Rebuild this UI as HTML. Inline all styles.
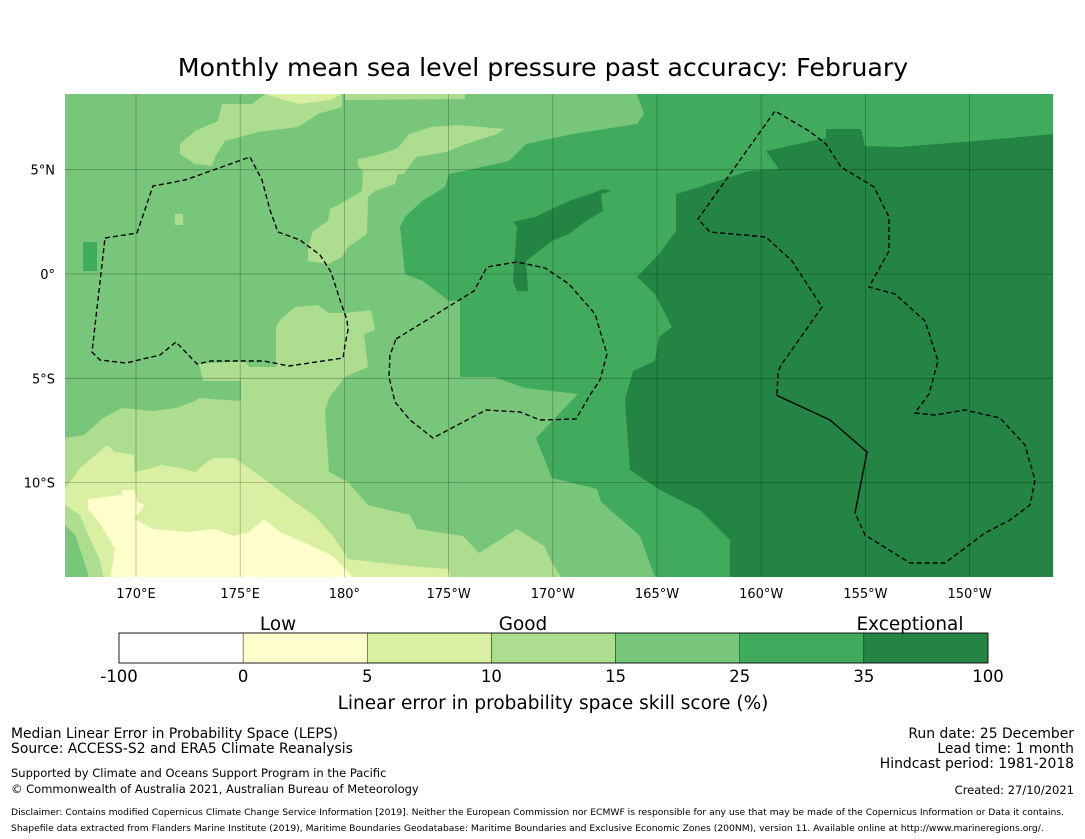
<!DOCTYPE html>
<html><head><meta charset="utf-8"><style>
body{margin:0;background:#fff;width:1085px;height:839px;overflow:hidden;font-family:"DejaVu Sans","Liberation Sans",sans-serif;}
svg{display:block}
</style></head><body>
<svg id="fig" width="1085" height="839" viewBox="0 0 1085 839" xmlns="http://www.w3.org/2000/svg">
<text x="543" y="76" text-anchor="middle" font-size="25.3" font-family="DejaVu Sans, sans-serif">Monthly mean sea level pressure past accuracy: February</text>
<defs><clipPath id="mapclip"><rect x="65" y="94" width="988" height="483"/></clipPath></defs>
<g id="map" clip-path="url(#mapclip)"></g>
<g id="grid"></g>
<g id="bounds"></g>
<g id="ticks" font-size="13"></g>
<g id="cbar"></g>
<g font-size="13.9">
<text x="11" y="738">Median Linear Error in Probability Space (LEPS)</text>
<text x="11" y="753">Source: ACCESS-S2 and ERA5 Climate Reanalysis</text>
</g>
<g font-size="11.5">
<text x="11" y="777">Supported by Climate and Oceans Support Program in the Pacific</text>
<text x="11" y="793">© Commonwealth of Australia 2021, Australian Bureau of Meteorology</text>
</g>
<g font-size="13.9" text-anchor="end">
<text x="1074" y="738">Run date: 25 December</text>
<text x="1074" y="753">Lead time: 1 month</text>
<text x="1074" y="768">Hindcast period: 1981-2018</text>
<text x="1074" y="794" font-size="11.5">Created: 27/10/2021</text>
</g>
<text x="11" y="815" font-size="9.2">Disclaimer: Contains modified Copernicus Climate Change Service Information [2019]. Neither the European Commission nor ECMWF is responsible for any use that may be made of the Copernicus Information or Data it contains.</text>
<text x="11" y="831" font-size="9.2">Shapefile data extracted from Flanders Marine Institute (2019), Maritime Boundaries Geodatabase: Maritime Boundaries and Exclusive Economic Zones (200NM), version 11. Available online at http://www.marineregions.org/.</text>
</svg>
<script>
const binEdges = ["-100","0","5","10","15","25","35","100"];
const binColors = ["#ffffff","#ffffcc","#d9f0a3","#addd8e","#78c679","#41ab5d","#238443"];
const categoryLabels = ["Low","Good","Exceptional"];
const lonTicks = ["170°E","175°E","180°","175°W","170°W","165°W","160°W","155°W","150°W"];
const lonValues = [170,175,180,185,190,195,200,205,210];
const latTicks = ["5°N","0°","5°S","10°S"];
const latValues = [5,0,-5,-10];

const NS="http://www.w3.org/2000/svg";
function mk(tag,attrs,parent){const e=document.createElementNS(NS,tag);for(const k in attrs)e.setAttribute(k,attrs[k]);parent.appendChild(e);return e;}
const xLon=l=>136+(l-170)*20.84;
const yLat=l=>274-l*20.86;

const map=document.getElementById('map');
const regions=[
 ["#78c679","65,94 1053,94 1053,577 65,577"],
 ["#addd8e","180,144 195,131 218,121 222,104 252,104 265,94 342,94 342,107 318,114 298,127 258,132 225,141 215,157 212,166 195,164 180,154"],
 ["#d9f0a3","265,94 342,94 330,100 300,104 288,101"],
 ["#addd8e","345,94 465,94 465,99 345,100"],
 ["#addd8e","358,166 358,159 378,155 398,148 409,134 431,127 459,125 504,129 497,134 466,144 446,152 416,157 404,174 398,174 395,184 375,191 368,197 367,234 348,247 342,257 328,264 308,261 308,247 313,231 328,221 330,209 345,201 362,191 363,171"],
 ["#addd8e","175,214 183,214 183,225 175,225"],
 ["#addd8e","280,320 295,307 318,305 329,313 345,313 371,310 375,330 364,334 368,367 345,377 329,398 325,411 329,472 348,482 368,505 410,515 417,529 463,536 479,553 517,529 544,546 552,563 563,580 65,580 65,438 84,435 92,428 103,418 122,408 153,411 176,408 195,401 199,398 241,401 241,381 203,381 199,364 245,361 249,367 276,367 276,327"],
 ["#d9f0a3","65,489 80,468 92,458 107,445 115,452 134,455 134,472 153,468 161,465 180,468 195,472 207,462 214,458 234,458 249,468 272,485 295,502 314,515 333,536 348,559 383,563 410,566 448,569 452,580 65,580"],
 ["#ffffcc","88,499 122,495 122,490 134,490 138,502 145,505 134,519 153,529 188,532 214,529 234,536 249,532 264,519 280,532 303,542 333,556 345,569 356,580 110,580 115,549 99,522 88,509"],
 ["#addd8e","65,505 80,515 88,535 100,560 104,580 65,580"],
 ["#78c679","65,525 75,535 82,555 90,580 65,580"],
 ["#41ab5d","83,242 97,242 97,271 83,271"],
 ["#41ab5d","637,94 1053,94 1053,577 655,577 640,536 601,502 597,489 552,478 536,438 578,394 525,388 494,377 460,377 460,300 449,301 423,281 405,274 400,227 405,217 422,201 445,187 449,174 509,161 526,144 573,134 637,124 644,114"],
 ["#238443","766,151 826,138 826,129 861,129 865,146 899,147 964,142 1053,134 1053,577 730,577 730,540 700,510 660,490 630,470 625,400 633,371 655,361 659,337 672,327 655,294 637,277 659,254 676,231 676,194 693,189 749,171 779,169"],
 ["#238443","603,189 612,191 601,194 603,211 586,221 569,234 552,241 526,261 528,291 517,291 513,281 517,227 513,222 535,217 552,209 569,201 590,194"]
];
regions.forEach(r=>{const p=mk('polygon',{points:r[1],fill:r[0]},map);

});

const grid=document.getElementById('grid');
lonValues.forEach(v=>{const l=mk('line',{x1:xLon(v),x2:xLon(v),y1:94,y2:577,stroke:'#000','stroke-opacity':0.28,'stroke-width':0.8},grid);

});
latValues.forEach(v=>{const l=mk('line',{x1:65,x2:1053,y1:yLat(v),y2:yLat(v),stroke:'#000','stroke-opacity':0.28,'stroke-width':0.8},grid);

});

const bounds=document.getElementById('bounds');
const dashed=[
 "105,238 137,233 153,186 185,180 250,157 262,180 270,210 278,232 300,240 320,255 331,272 340,300 347,320 348,330 345,345 343,358 289,366 264,361 211,361 197,364 176,342 160,355 126,363 100,360 92,352 105,238",
 "396,339 474,291 487,267 517,262 545,268 569,284 595,314 607,354 600,380 590,395 576,419 540,420 520,412 486,410 433,438 410,420 395,402 389,377 390,355 396,339",
 "777,394 778,372 781,365 796,344 822,307 792,261 766,237 710,232 698,219 775,111 809,131 826,144 841,167 874,187 889,217 889,251 869,287 895,294 925,321 938,361 929,394 915,413 935,415 965,410 1000,418 1025,445 1035,480 1030,505 1010,520 985,533 945,563 910,563 865,535 855,513"
];
dashed.forEach(d=>{const p=mk('polyline',{points:d,fill:'none',stroke:'#000','stroke-width':1.4,'stroke-dasharray':'5,3'},bounds);

});
const solid=mk('polyline',{points:"855,513 867,452 830,420 776,395",fill:'none',stroke:'#000','stroke-width':1.4},bounds);



const ticks=document.getElementById('ticks');
lonTicks.forEach((t,i)=>{const e=mk('text',{x:xLon(lonValues[i]),y:598,'text-anchor':'middle'},ticks);e.textContent=t;

});
latTicks.forEach((t,i)=>{const e=mk('text',{x:55,y:yLat(latValues[i])+5,'text-anchor':'end'},ticks);e.textContent=t;

});

const cb=document.getElementById('cbar');
const cx0=119,cx1=988,cy=633,ch=30;
const seg=(cx1-cx0)/binColors.length;
binColors.forEach((c,i)=>{const r=mk('rect',{x:cx0+i*seg,y:cy,width:seg,height:ch,fill:c,stroke:'#000','stroke-width':0.4},cb);

});
mk('rect',{x:cx0,y:cy,width:cx1-cx0,height:ch,fill:'none',stroke:'#000','stroke-width':0.8},cb);
binEdges.forEach((t,i)=>{const e=mk('text',{x:cx0+i*seg,y:682,'text-anchor':'middle','font-size':16.5},cb);e.textContent=t;

});
const catX=[278,523,910];
categoryLabels.forEach((t,i)=>{const e=mk('text',{x:catX[i],y:630,'text-anchor':'middle','font-size':18.4},cb);e.textContent=t;

});
const ct=mk('text',{x:553,y:709,'text-anchor':'middle','font-size':18.5},cb);
ct.textContent="Linear error in probability space skill score (%)";


</script>
</body></html>
